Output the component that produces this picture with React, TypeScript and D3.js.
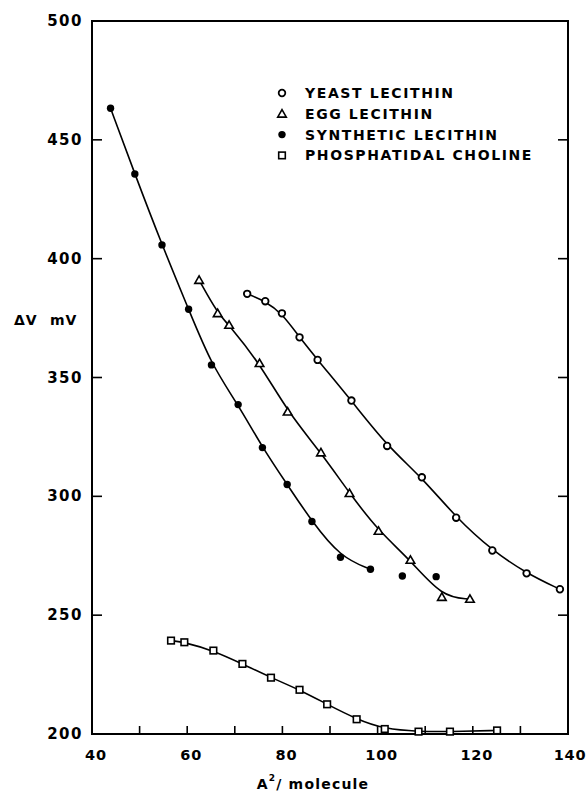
import * as d3 from 'd3';

// Yeast lecithin (open circles)
const yeastX = [72.6, 76.4, 79.9, 83.6, 87.4, 94.5, 102.0, 109.3, 116.5, 124.1, 131.3, 138.3];
const yeastY = [385.2, 382.1, 377.0, 366.9, 357.4, 340.3, 321.2, 308.0, 291.0, 277.2, 267.6, 260.9];

// Egg lecithin (open triangles)
const eggX = [62.5, 66.4, 68.8, 75.2, 81.1, 88.1, 94.1, 100.2, 106.9, 113.5, 119.4];
const eggY = [391.0, 377.0, 372.1, 356.0, 335.6, 318.4, 301.3, 285.4, 273.2, 257.6, 256.8];

// Synthetic lecithin (filled circles); the last two are not on the curve
const synthX = [43.9, 49.0, 54.7, 60.3, 65.1, 70.7, 75.8, 81.0, 86.2, 92.2, 98.5, 105.2, 112.3];
const synthY = [463.3, 435.6, 405.8, 378.7, 355.3, 338.6, 320.5, 305.0, 289.4, 274.4, 269.3, 266.5, 266.2];
const synthOnCurve = 11;

// Phosphatidal choline (open squares)
const cholX = [56.6, 59.4, 65.5, 71.6, 77.6, 83.6, 89.4, 95.6, 101.5, 108.6, 115.2, 125.1];
const cholY = [239.3, 238.6, 235.1, 229.5, 223.7, 218.6, 212.5, 206.2, 202.1, 201.0, 201.0, 201.5];

const xLabels = [40, 60, 80, 100, 120, 140];
const xMinor = [50, 60, 70, 80, 90, 100, 110, 120, 130];
const yLabels = [500, 450, 400, 350, 300, 250, 200];
const yTicks = [450, 400, 350, 300, 250];
const legendNames = ['YEAST LECITHIN', 'EGG LECITHIN', 'SYNTHETIC LECITHIN', 'PHOSPHATIDAL CHOLINE'];

const W = 588;
const H = 792;
const FONT = '"DejaVu Sans", Verdana, sans-serif';

const x = d3.scaleLinear().domain([40, 140]).range([92, 568]);
const y = d3.scaleLinear().domain([200, 500]).range([734, 21]);

type P = [number, number];
const zip = (xs: number[], ys: number[]): P[] => xs.map((v, i) => [v, ys[i]]);

const line = d3
  .line<P>()
  .x((d) => x(d[0]))
  .y((d) => y(d[1]))
  .curve(d3.curveBasis);

const tri = d3.symbol().type(d3.symbolTriangle).size(32)();

function Marker({ kind, cx, cy }: { kind: number; cx: number; cy: number }) {
  if (kind === 0)
    return <circle cx={cx} cy={cy} r={3.3} fill="white" stroke="black" strokeWidth={1.8} />;
  if (kind === 1)
    return (
      <path d={tri || ''} transform={`translate(${cx},${cy + 0.8})`} fill="white" stroke="black" strokeWidth={1.6} />
    );
  if (kind === 2) return <circle cx={cx} cy={cy} r={3.7} fill="black" />;
  return <rect x={cx - 3.3} y={cy - 3.3} width={6.6} height={6.6} fill="white" stroke="black" strokeWidth={1.6} />;
}

export default function App() {
  const yeast = zip(yeastX, yeastY);
  const egg = zip(eggX, eggY);
  const synth = zip(synthX, synthY);
  const chol = zip(cholX, cholY);
  const series: P[][] = [yeast, egg, synth, chol];
  const curves: P[][] = [yeast, egg, synth.slice(0, synthOnCurve), chol];

  const [x0, x1] = x.range();
  const [yb, yt] = y.range();

  return (
    <svg
      width={W}
      height={H}
      style={{ position: 'absolute', left: 0, top: 0, background: 'white' }}
      fontFamily={FONT}
    >
      <rect x={0} y={0} width={W} height={H} fill="white" />

      {/* frame */}
      <rect x={x0} y={yt} width={x1 - x0} height={yb - yt} fill="none" stroke="black" strokeWidth={2} />

      {/* left and right ticks */}
      {yTicks.map((t) => (
        <g key={t}>
          <line x1={x0} x2={x0 + 10} y1={y(t)} y2={y(t)} stroke="black" strokeWidth={1.6} />
          <line x1={x1} x2={x1 - 10} y1={y(t)} y2={y(t)} stroke="black" strokeWidth={1.6} />
        </g>
      ))}
      {/* bottom ticks */}
      {xMinor.map((t) => (
        <line key={t} x1={x(t)} x2={x(t)} y1={yb} y2={yb - 8} stroke="black" strokeWidth={1.6} />
      ))}

      {/* y labels */}
      {yLabels.map((t) => (
        <text
          key={t}
          x={83}
          y={y(t)}
          textAnchor="end"
          dominantBaseline="central"
          fontSize={15}
          fontWeight="bold"
          letterSpacing={1.5}
        >
          {t}
        </text>
      ))}
      {/* x labels */}
      {xLabels.map((t) => (
        <text
          key={t}
          x={Math.min(x(t) + 4, 570)}
          y={760}
          textAnchor="middle"
          fontSize={14.5}
          fontWeight="bold"
          letterSpacing={0.8}
        >
          {t}
        </text>
      ))}

      {/* axis titles */}
      <text x={14} y={325} fontSize={14} fontWeight="bold" letterSpacing={1}>
        ΔV
      </text>
      <text x={50} y={325} fontSize={14} fontWeight="bold" letterSpacing={1}>
        mV
      </text>
      <text x={313} y={789} textAnchor="middle" fontSize={14} fontWeight="bold" letterSpacing={1.2}>
        A<tspan dy={-8} fontSize={9}>2</tspan>
        <tspan dy={8}>/ molecule</tspan>
      </text>

      {/* curves */}
      {curves.map((c, i) => (
        <path key={i} d={line(c) || ''} fill="none" stroke="black" strokeWidth={1.6} />
      ))}

      {/* markers */}
      {series.map((s, k) =>
        s.map((d, i) => <Marker key={`${k}-${i}`} kind={k} cx={x(d[0])} cy={y(d[1])} />)
      )}

      {/* legend */}
      {legendNames.map((name, i) => (
        <g key={name} transform={`translate(282, ${93 + i * 20.8})`}>
          <Marker kind={i} cx={0} cy={0} />
          <text x={23} y={0} dominantBaseline="central" fontSize={14} fontWeight="bold" letterSpacing={1.6}>
            {name}
          </text>
        </g>
      ))}
    </svg>
  );
}
